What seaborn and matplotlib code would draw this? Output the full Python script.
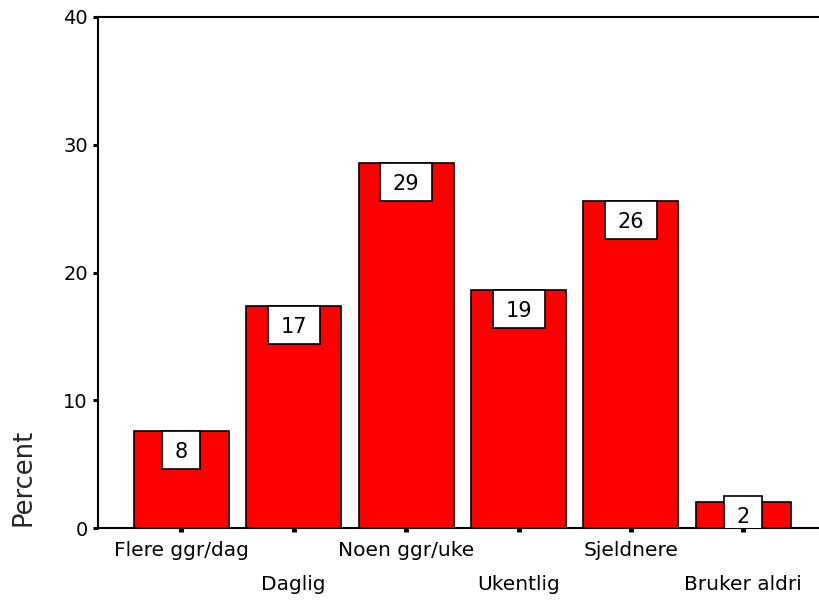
import numpy as np
import pandas as pd
import matplotlib
matplotlib.use("Agg")
import matplotlib.pyplot as plt
from matplotlib.patches import Rectangle
from matplotlib.transforms import ScaledTranslation
import seaborn as sns

categories = ["Flere ggr/dag", "Daglig", "Noen ggr/uke", "Ukentlig", "Sjeldnere", "Bruker aldri"]
percent = [7.6, 17.4, 28.6, 18.6, 25.6, 2.0]
yticks = [0, 10, 20, 30, 40]

sns.set_style("white")
plt.rcParams["font.family"] = ["DejaVu Sans"]

W, H, DPI = 8.2, 6.05, 100
fig = plt.figure(figsize=(W, H), dpi=DPI)
ax_left, ax_bottom = 98 / 820, 1 - 528 / 605
ax_w, ax_h = 1 - ax_left, (528 - 17) / 605
ax = fig.add_axes([ax_left, ax_bottom, ax_w, ax_h])

df = pd.DataFrame({"cat": categories, "pct": percent})
sns.barplot(data=df, x="cat", y="pct", color="#ff0000", saturation=1,
            edgecolor="black", linewidth=1.2, width=0.845, ax=ax, zorder=2)

ax.set_xlim(-0.741, 5.682)
ax.set_ylim(0, 40)
ax.set_yticks(yticks)
ax.set_yticklabels([str(t) for t in yticks], fontsize=14)
ax.set_xlabel("")
ax.set_ylabel("Percent", fontsize=18.5)
ax.yaxis.set_label_coords(-0.103, 0.10)
ax.yaxis.label.set_va("center")

for side in ["left", "top", "bottom"]:
    ax.spines[side].set_visible(True)
    ax.spines[side].set_color("black")
    ax.spines[side].set_linewidth(1.5)
ax.spines["right"].set_visible(False)

ax.tick_params(axis="y", which="major", left=True, length=3.6, width=2.2, pad=3.6, colors="black")
ax.tick_params(axis="x", which="major", bottom=True, length=3, width=3.6, pad=6, colors="black")
ax.set_xticks(range(len(categories)))
ax.set_xticklabels(categories, fontsize=14.5)
for i, lab in enumerate(ax.get_xticklabels()):
    if i % 2 == 1:
        lab.set_transform(lab.get_transform() + ScaledTranslation(0, -35 / DPI, fig.dpi_scale_trans))

# value boxes
px_per_x = (ax_w * W * DPI) / (ax.get_xlim()[1] - ax.get_xlim()[0])
px_per_y = (ax_h * H * DPI) / (ax.get_ylim()[1] - ax.get_ylim()[0])
box_h = 38 / px_per_y
for i, v in enumerate(percent):
    txt = f"{v:.0f}"
    bw = (24 + 14 * len(txt)) / px_per_x
    top = max(v, box_h * 0.84)
    ax.add_patch(Rectangle((i - bw / 2, top - box_h), bw, box_h, facecolor="white",
                           edgecolor="black", linewidth=1.2, zorder=3))
    ax.text(i, top - box_h / 2 - 1.5 / px_per_y * 0, txt, ha="center", va="center_baseline",
            fontsize=15, zorder=4, color="black")

fig.savefig("out.png", dpi=DPI)
